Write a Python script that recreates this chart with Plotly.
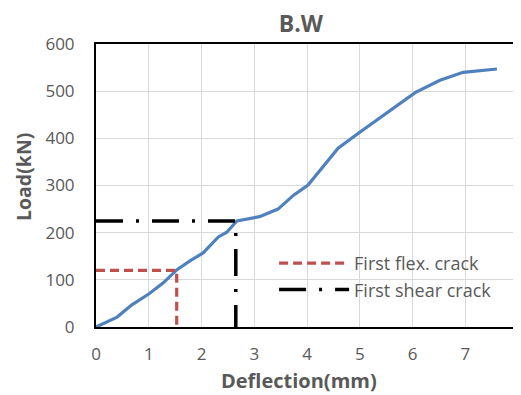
import plotly.graph_objects as go

deflection = [0, 0.4, 0.68, 1.0, 1.27, 1.53, 1.78, 2.03, 2.32, 2.48, 2.67, 3.1, 3.45, 3.74, 4.02, 4.59, 5.0, 5.5, 6.05, 6.52, 6.96, 7.6]
load = [0, 21, 47, 70, 93, 121, 140, 157, 191, 201, 225, 234, 250, 279, 301, 379, 413, 453, 497, 523, 540, 547]

flex_x = [0, 1.53, 1.53]
flex_y = [120, 120, 0]
shear_x = [0, 2.65, 2.65]
shear_y = [225, 225, 0]

x_title = "Deflection(mm)"
y_title = "Load(kN)"
chart_title = "B.W"

fig = go.Figure()
fig.add_trace(go.Scatter(x=deflection, y=load, mode="lines", line=dict(color="#4f81bd", width=3.2), showlegend=False))
fig.add_trace(go.Scatter(x=flex_x, y=flex_y, mode="lines", name="First flex. crack",
                         line=dict(color="#c0504d", width=3.2, dash="9px,5px")))
fig.add_trace(go.Scatter(x=shear_x, y=shear_y, mode="lines", name="First shear crack",
                         line=dict(color="black", width=3.5, dash="27px,13px,3px,13px")))

font_fam = "Open Sans, Liberation Sans, sans-serif"
# page body has an 8px margin; figure is sized so it fills the 521x395 window
fig.update_layout(
    width=513, height=387,
    margin=dict(l=88, r=3, t=36, b=68, autoexpand=False),
    paper_bgcolor="white", plot_bgcolor="white",
    title=dict(text="<b>" + chart_title + "</b>", x=0.571, xanchor="center", y=0.96, yanchor="middle",
               font=dict(family=font_fam, size=23, color="#595959")),
    font=dict(family=font_fam, color="#595959"),
    legend=dict(x=0.422, y=0.29, xanchor="left", yanchor="top", bgcolor="rgba(0,0,0,0)",
                itemwidth=70, font=dict(size=18, color="#595959")),
    xaxis=dict(range=[0, 8], dtick=1, showgrid=True, gridcolor="#d9d9d9", gridwidth=1,
               showline=True, linecolor="black", linewidth=2, mirror=True, zeroline=False,
               ticks="", tickfont=dict(size=17, color="#595959"), ticklabelstandoff=11,
               ticklabeloverflow="allow"),
    yaxis=dict(range=[0, 600], dtick=100, showgrid=True, gridcolor="#d9d9d9", gridwidth=1,
               showline=True, linecolor="black", linewidth=2, mirror=True, zeroline=False,
               ticks="", tickfont=dict(size=17, color="#595959"), ticklabelstandoff=16),
    annotations=[
        dict(text="<b>" + x_title + "</b>", xref="paper", yref="paper", x=0.48, y=-0.19,
             xanchor="center", yanchor="middle", showarrow=False,
             font=dict(family=font_fam, size=20, color="#595959")),
        dict(text="<b>" + y_title + "</b>", xref="paper", yref="paper", x=-0.173, y=0.53,
             xanchor="center", yanchor="middle", showarrow=False, textangle=-90,
             font=dict(family=font_fam, size=19.5, color="#595959")),
    ],
)
fig.write_html("out.html")
